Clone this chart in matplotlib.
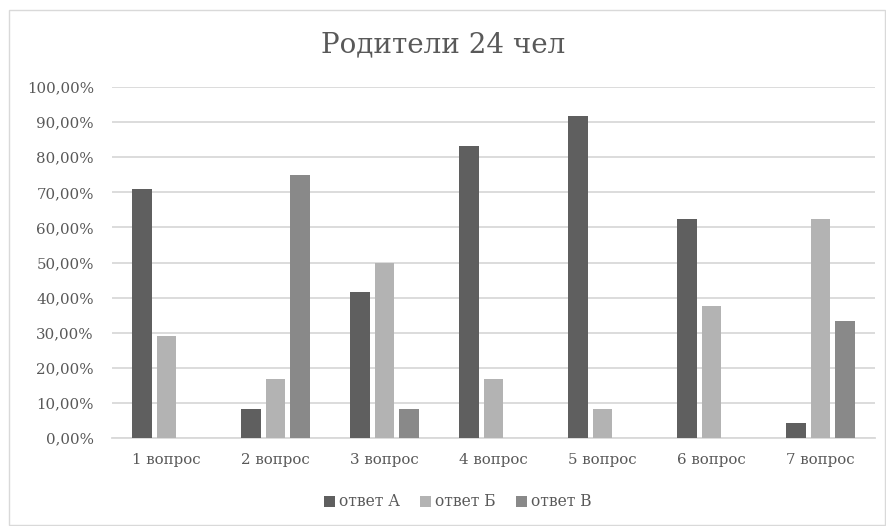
import matplotlib.pyplot as plt
import numpy as np
from matplotlib.patches import Rectangle
from matplotlib.ticker import FuncFormatter

plt.rcParams['font.family'] = ['DejaVu Serif']

questions = ['1 вопрос', '2 вопрос', '3 вопрос', '4 вопрос', '5 вопрос', '6 вопрос', '7 вопрос']
series = ['ответ А', 'ответ Б', 'ответ В']
# доли ответов (24 человека)
answer_a = [70.83, 8.33, 41.67, 83.33, 91.67, 62.50, 4.17]
answer_b = [29.17, 16.67, 50.00, 16.67, 8.33, 37.50, 62.50]
answer_v = [0.00, 75.00, 8.33, 0.00, 0.00, 0.00, 33.33]
colors = ['#5f5f5f', '#b3b3b3', '#898989']

fig = plt.figure(figsize=(8.87, 5.26), dpi=100)
fig.patches.append(Rectangle((9 / 887, 1 / 526), 876 / 887, 515 / 526,
                             transform=fig.transFigure, fill=False,
                             edgecolor='#d9d9d9', linewidth=1))
ax = fig.add_axes([112 / 887, 1 - 438 / 526, 763 / 887, 351 / 526])

x = np.arange(len(questions))
w = 0.175
step = 0.225
for i, (vals, name) in enumerate(zip([answer_a, answer_b, answer_v], series)):
    ax.bar(x + (i - 1) * step, np.array(vals) / 100, width=w, color=colors[i],
           label=name, zorder=3)

ax.set_xlim(-0.5, len(questions) - 0.5)
ax.set_ylim(0, 1.0)
ax.set_yticks(np.arange(0, 1.01, 0.1))
ax.yaxis.set_major_formatter(FuncFormatter(lambda v, p: f'{v * 100:.2f}%'.replace('.', ',')))
ax.set_xticks(x)
ax.set_xticklabels(questions)
ax.grid(axis='y', color='#d9d9d9', linewidth=1.3, zorder=0)
for s in ['top', 'right', 'left']:
    ax.spines[s].set_visible(False)
ax.spines['bottom'].set_color('#d9d9d9')
ax.spines['bottom'].set_linewidth(1.3)
ax.tick_params(length=0, labelsize=10.8, labelcolor='#595959')
ax.tick_params(axis='x', pad=11)
ax.tick_params(axis='y', pad=13)

fig.text(0.5, 1 - 45 / 526, 'Родители 24 чел', ha='center', va='center',
         fontsize=20, color='#595959')
fig.legend(loc='center', bbox_to_anchor=(0.516, 1 - 502 / 526), ncol=3, frameon=False,
           fontsize=11.2, labelcolor='#595959', handlelength=0.7, handleheight=0.7,
           handletextpad=0.25, columnspacing=1.3)

fig.savefig('out.png', dpi=100)
